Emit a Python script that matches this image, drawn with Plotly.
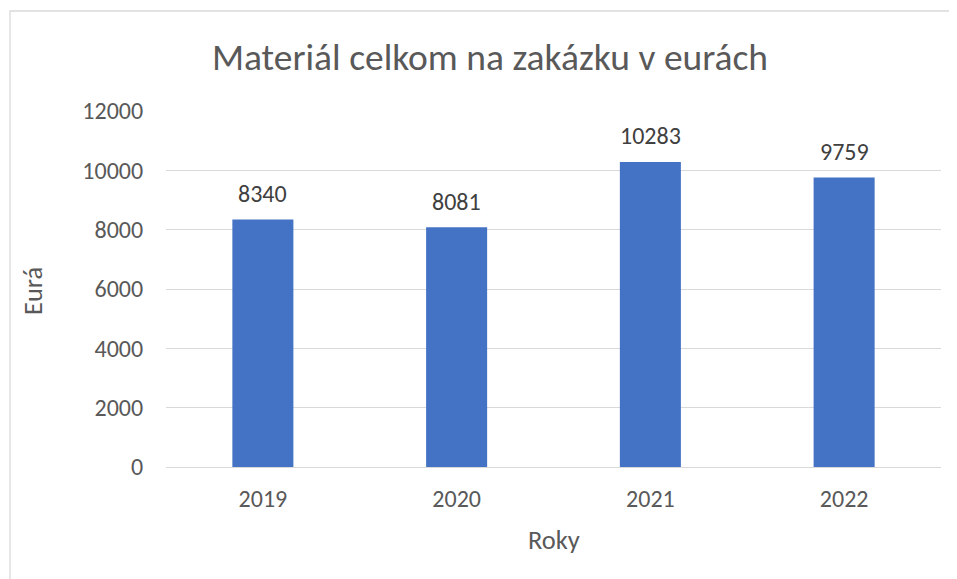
import plotly.graph_objects as go

years = ["2019", "2020", "2021", "2022"]
values = [8340, 8081, 10283, 9759]
y_ticks = [0, 2000, 4000, 6000, 8000, 10000, 12000]

FONT = "Carlito, Lato, 'Liberation Sans', sans-serif"
GRAY = "#595959"

# page body has an 8px margin; figure coordinates are page coordinates - 8
W, H = 949, 571
L, R, T, B = 158, 16, 103, 112
PW, PH = W - L - R, H - T - B

fig = go.Figure()
fig.add_trace(go.Bar(
    x=years, y=values,
    marker=dict(color="#4472C4", line=dict(width=0)),
    width=0.315,
    hoverinfo="x+y",
))

# data labels above bars (category index positions on the category axis)
for i, v in enumerate(values):
    fig.add_annotation(x=i, y=v, xref="x", yref="y", text=str(v), showarrow=False,
                       yanchor="middle", yshift=26,
                       font=dict(size=24, color="#404040", family=FONT))

fig.update_layout(
    width=W, height=H,
    margin=dict(l=L, r=R, t=T, b=B),
    paper_bgcolor="white", plot_bgcolor="white",
    font=dict(family=FONT, color=GRAY),
    title=dict(text="Materiál celkom na zakázku v eurách",
               font=dict(size=37.5, color=GRAY, family=FONT),
               xref="container", x=482 / W, xanchor="center",
               y=1 - 49 / H, yanchor="middle"),
    showlegend=False,
    xaxis=dict(
        type="category", range=[-0.5, len(years) - 0.5],
        showgrid=False, showline=False, zeroline=False,
        ticks="outside", ticklen=10, tickcolor="rgba(0,0,0,0)",
        tickfont=dict(size=24, color=GRAY),
    ),
    yaxis=dict(
        range=[0, 12000], tickvals=y_ticks, tickformat="d",
        showgrid=True, gridcolor="#D9D9D9", gridwidth=1.3,
        zeroline=True, zerolinecolor="#D9D9D9", zerolinewidth=1.3,
        showline=False,
        ticks="outside", ticklen=17, tickcolor="rgba(0,0,0,0)",
        tickfont=dict(size=24, color=GRAY),
    ),
)

# axis titles
fig.add_annotation(xref="paper", yref="paper", x=(25 - L) / PW, y=(H - B - 283) / PH,
                   text="Eurá", textangle=-90, showarrow=False,
                   xanchor="center", yanchor="middle",
                   font=dict(size=26.5, color=GRAY, family=FONT))
fig.add_annotation(xref="paper", yref="paper", x=(546 - L) / PW, y=(H - B - 532) / PH,
                   text="Roky", showarrow=False,
                   xanchor="center", yanchor="middle",
                   font=dict(size=26.5, color=GRAY, family=FONT))

# chart-area border (light gray), extending past right/bottom of view
fig.add_shape(type="rect", xref="paper", yref="paper",
              x0=(2 - L) / PW, x1=1.2, y0=-0.6, y1=(H - B - 3) / PH,
              line=dict(color="#D9D9D9", width=1.3), fillcolor="rgba(0,0,0,0)",
              layer="below")

fig.write_html("out.html")
